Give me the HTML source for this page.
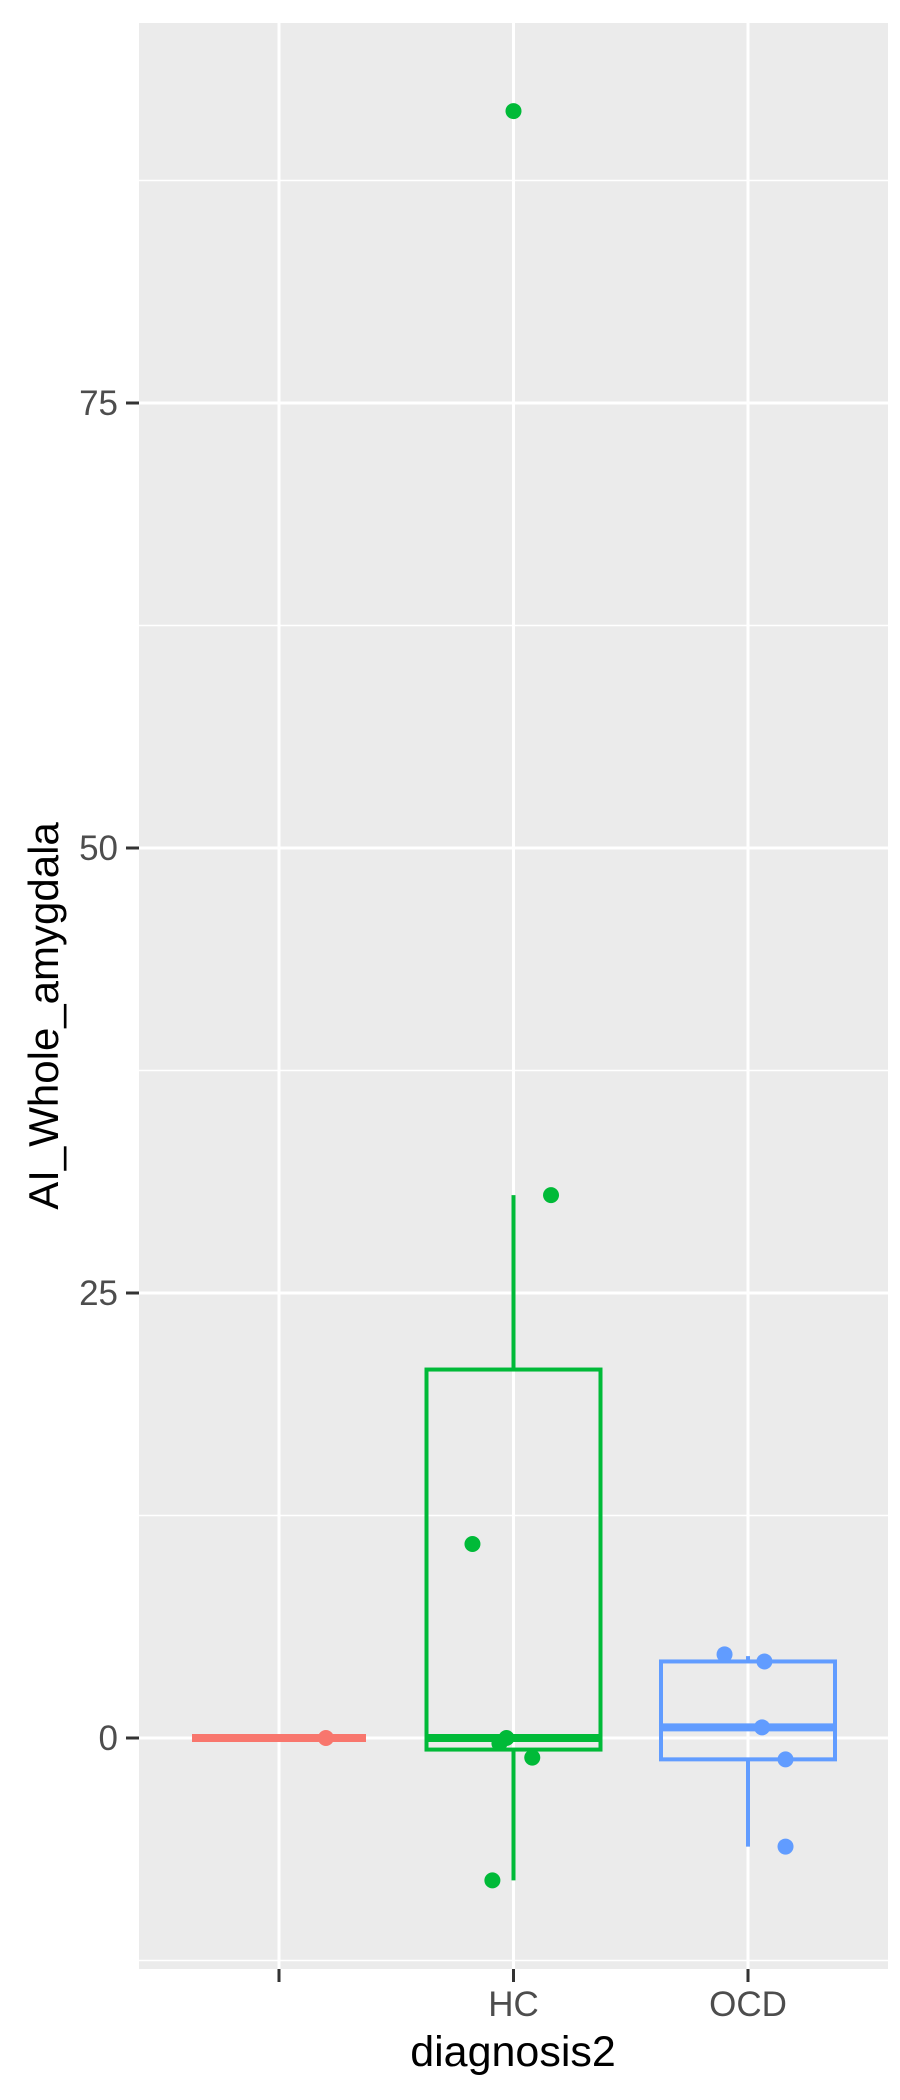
<!DOCTYPE html>
<html><head><meta charset="utf-8"><style>
html,body{margin:0;padding:0;background:#fff;}
svg{display:block;font-family:"Liberation Sans",Arial,sans-serif;}
</style></head><body>
<svg id="chart" width="900" height="2100" viewBox="0 0 900 2100">
<rect x="139" y="23" width="749" height="1946" fill="#ebebeb"/>
<g id="grid"></g>
<g id="marks"></g>
<g id="axes"></g>
<text x="513" y="2066" font-size="43" text-anchor="middle" fill="#000">diagnosis2</text>
<text transform="translate(58,1016) rotate(-90)" font-size="42" text-anchor="middle" fill="#000">AI_Whole_amygdala</text>
</svg>
<script>
const categories = ["", "HC", "OCD"];
const colors = ["#F8766D", "#00BA38", "#619CFF"];
const yTicks = [0, 25, 50, 75];
const yMinor = [-12.5, 12.5, 37.5, 62.5, 87.5];
// box stats: [lowerWhisker, q1, median, q3, upperWhisker]
const boxStats = [
  [0, 0, 0, 0, 0],
  [-8.0, -0.65, 0, 20.7, 30.5],
  [-6.1, -1.2, 0.6, 4.3, 4.6]
];
const pointGroups = [0, 1, 1, 1, 1, 1, 1, 1, 2, 2, 2, 2, 2];
const pointJitter = [0.2, 0, 0.16, -0.175, -0.03, -0.06, 0.08, -0.09, -0.1, 0.07, 0.06, 0.16, 0.16];
const pointValues = [0, 91.4, 30.5, 10.9, 0, -0.3, -1.1, -8.0, 4.7, 4.3, 0.6, -1.2, -6.1];

const NS = "http://www.w3.org/2000/svg";
const yScale = v => 1738 - 17.8 * v;
const xScale = i => 279 + 234.5 * i;
const grid = document.getElementById('grid'), marks = document.getElementById('marks'), axes = document.getElementById('axes');
function mk(tag, attrs, parent){const e=document.createElementNS(NS,tag);for(const k in attrs)e.setAttribute(k,attrs[k]);parent.appendChild(e);return e;}

yMinor.forEach(v=>{
  const l=mk('line',{x1:139,x2:888,y1:yScale(v),y2:yScale(v),stroke:'#fff','stroke-width':1.5},grid);
  
  
});
yTicks.forEach(v=>{
  const l=mk('line',{x1:139,x2:888,y1:yScale(v),y2:yScale(v),stroke:'#fff','stroke-width':3},grid);
  
  
  const t=mk('line',{x1:126,x2:139,y1:yScale(v),y2:yScale(v),stroke:'#333','stroke-width':3},axes);
  
  
  const tx=mk('text',{x:118,y:yScale(v)+12,'font-size':35,'text-anchor':'end',fill:'#4d4d4d'},axes);
  tx.textContent=v;
  
  
});
categories.forEach((c,i)=>{
  const x=xScale(i);
  const l=mk('line',{x1:x,x2:x,y1:23,y2:1969,stroke:'#fff','stroke-width':3},grid);
  
  
  const t=mk('line',{x1:x,x2:x,y1:1969,y2:1982,stroke:'#333','stroke-width':3},axes);
  
  
  const tx=mk('text',{x:x,y:2016,'font-size':35,'text-anchor':'middle',fill:'#4d4d4d'},axes);
  tx.textContent=c;
  
  
});
boxStats.forEach((s,i)=>{
  const x=xScale(i), hw=87, col=colors[i];
  const g=mk('g',{},marks);
  
  
  mk('line',{x1:x,x2:x,y1:yScale(s[4]),y2:yScale(s[3]),stroke:col,'stroke-width':4},g);
  mk('line',{x1:x,x2:x,y1:yScale(s[1]),y2:yScale(s[0]),stroke:col,'stroke-width':4},g);
  mk('rect',{x:x-hw,y:yScale(s[3]),width:2*hw,height:Math.max(0,yScale(s[1])-yScale(s[3])),fill:'none',stroke:col,'stroke-width':4},g);
  mk('line',{x1:x-hw,x2:x+hw,y1:yScale(s[2]),y2:yScale(s[2]),stroke:col,'stroke-width':8},g);
});
pointValues.forEach((v,k)=>{
  const gi=pointGroups[k];
  const c=mk('circle',{cx:xScale(gi+pointJitter[k]),cy:yScale(v),r:8,fill:colors[gi]},marks);
  
  
});
</script>
</body></html>
